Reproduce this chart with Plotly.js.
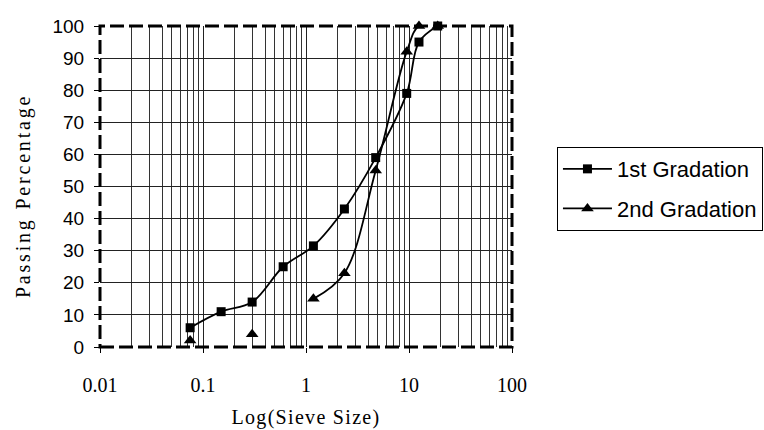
<!DOCTYPE html>
<html>
<head>
<meta charset="utf-8">
<script src="https://cdn.plot.ly/plotly-3.0.1.min.js"></script>
<style>
html,body{margin:0;padding:0;background:#fff}#chart{width:764px;height:430px}
.annotation-text{letter-spacing:2.8px}
.xtitle{letter-spacing:1.3px}
</style>
</head>
<body>
<div id="chart"></div>
<script>
// Sieve sizes (mm)
const sieveSizes = [0.075, 0.15, 0.3, 0.6, 1.18, 2.36, 4.75, 9.5, 12.5, 19];
// Passing percentages
const gradation1 = [6, 11, 14, 25, 31.5, 43, 59, 79, 95, 100];
const gradation2 = [2, null, 4, null, 15, 23, 55, 92, 100, 100];
const seriesNames = ["1st Gradation", "2nd Gradation"];
const xTickVals = [0.01, 0.1, 1, 10, 100];
const xTickText = ["0.01", "0.1", "1", "10", "100"];
const yTickVals = [0, 10, 20, 30, 40, 50, 60, 70, 80, 90, 100];
const xTitle = "Log(Sieve Size)";
const yTitle = "Passing Percentage";

const serif = "Liberation Serif, Times New Roman, serif";
const sans = "Liberation Sans, Arial, sans-serif";

const traces = [
  {
    x: sieveSizes, y: gradation2, name: seriesNames[1], type: "scatter", mode: "lines+markers",
    connectgaps: false,
    line: {color: "#000", width: 1.8, shape: "spline", smoothing: 1},
    marker: {symbol: "triangle-up", size: 11, color: "#000"},
    cliponaxis: false, legendgroup: "b", legendrank: 2
  },
  {
    x: sieveSizes, y: gradation1, name: seriesNames[0], type: "scatter", mode: "lines+markers",
    line: {color: "#000", width: 1.8, shape: "spline", smoothing: 1},
    marker: {symbol: "square", size: 9, color: "#000"},
    cliponaxis: false, legendgroup: "a", legendrank: 1
  }
];

const layout = {
  width: 764, height: 430,
  margin: {l: 100, r: 252, t: 26, b: 83, autoexpand: false},
  paper_bgcolor: "#fff", plot_bgcolor: "#fff",
  showlegend: true,
  legend: {
    xref: "container", yref: "container",
    x: 0.729, y: 0.658, xanchor: "left", yanchor: "top",
    bordercolor: "#000", borderwidth: 1, bgcolor: "#fff",
    font: {family: sans, size: 22, color: "#000"},
    traceorder: "grouped", tracegroupgap: 8, itemwidth: 49
  },
  xaxis: {
    type: "log", range: [-2, 2],
    tickvals: xTickVals, ticktext: xTickText,
    ticks: "outside", ticklen: 5, tickcolor: "#000", tickwidth: 1,
    ticklabelstandoff: 15,
    tickfont: {family: serif, size: 20, color: "#000"},
    showgrid: true, gridcolor: "#222", gridwidth: 1,
    minor: {dtick: "D1", showgrid: true, gridcolor: "#333", gridwidth: 1, ticks: ""},
    showline: false, zeroline: false,
    title: {text: xTitle, standoff: 14, font: {family: serif, size: 20, color: "#000"}}
  },
  yaxis: {
    range: [0, 100], tickvals: yTickVals,
    ticks: "outside", ticklen: 5, tickcolor: "#000", tickwidth: 1,
    ticklabelstandoff: 6,
    tickfont: {family: sans, size: 19, color: "#000"},
    showgrid: true, gridcolor: "#222", gridwidth: 1,
    showline: false, zeroline: false
  },
  annotations: [{
    text: yTitle, xref: "paper", yref: "paper", x: -0.187, y: 0.47,
    xanchor: "center", yanchor: "middle", textangle: -90, showarrow: false,
    font: {family: serif, size: 20, color: "#000"}
  }],
  shapes: [{
    type: "rect", xref: "paper", yref: "paper", x0: 0, x1: 1, y0: 0, y1: 1,
    line: {color: "#000", width: 3, dash: "14px,5px"}, layer: "above"
  }]
};

Plotly.newPlot("chart", traces, layout, {displayModeBar: false, staticPlot: true});
</script>
</body>
</html>
